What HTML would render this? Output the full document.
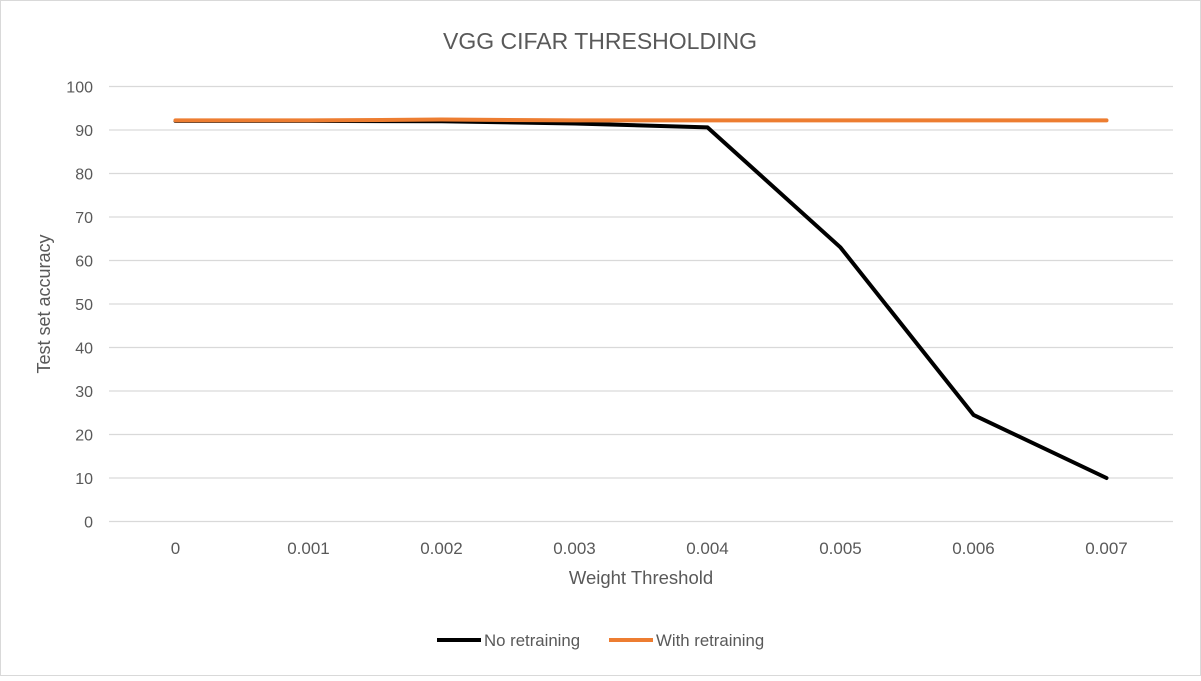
<!DOCTYPE html>
<html><head><meta charset="utf-8"><style>
html,body{margin:0;padding:0;background:#fff;}
body{width:1201px;height:676px;overflow:hidden;font-family:"Liberation Sans",sans-serif;}
</style></head><body>
<svg width="1201" height="676" xmlns="http://www.w3.org/2000/svg" font-family="Liberation Sans, sans-serif">
<rect x="0.5" y="0.5" width="1200" height="675" fill="#fff" stroke="#d9d9d9"/>
<text x="600" y="49" text-anchor="middle" font-size="23" fill="#595959">VGG CIFAR THRESHOLDING</text>
<g id="grid"></g><g id="yt"></g><g id="xt"></g><g id="series"></g>
<text x="641" y="584" text-anchor="middle" font-size="18.5" fill="#595959">Weight Threshold</text>
<text transform="translate(50,304) rotate(-90)" text-anchor="middle" font-size="18" fill="#595959">Test set accuracy</text>
<g>
<g><line x1="437" y1="640" x2="481" y2="640" stroke="#000" stroke-width="4"/><text x="484" y="646" font-size="16.8" fill="#595959">No retraining</text></g>
<g><line x1="609" y1="640" x2="653" y2="640" stroke="#ed7d31" stroke-width="4"/><text x="656" y="646" font-size="16.8" fill="#595959">With retraining</text></g>
</g>
</svg>
<script>
const categories=["0","0.001","0.002","0.003","0.004","0.005","0.006","0.007"];
const noRetraining=[92.1,92.1,92.0,91.5,90.6,63,24.5,10];
const withRetraining=[92.2,92.2,92.4,92.2,92.2,92.2,92.2,92.2];
const yTicks=[0,10,20,30,40,50,60,70,80,90,100];
const NS="http://www.w3.org/2000/svg";
const left=109,right=1173,y0=521.5,y100=86.5;
const bw=(right-left)/categories.length;
function x(i){return left+bw*(i+0.5);}
function y(v){return y0-(y0-y100)*v/100;}
function mk(t,a,p){const e=document.createElementNS(NS,t);for(const k in a)e.setAttribute(k,a[k]);p.appendChild(e);return e;}
const grid=document.getElementById('grid'),yt=document.getElementById('yt'),xt=document.getElementById('xt'),ser=document.getElementById('series');
yTicks.forEach(v=>{
 const l=mk('line',{x1:left,x2:right,y1:y(v),y2:y(v),stroke:'#d9d9d9','stroke-width':1.3},grid);
 
 
 const t=mk('text',{x:93,y:y(v)+6,'text-anchor':'end','font-size':16,fill:'#595959'},yt);
 t.textContent=v;
 
 
});
categories.forEach((c,i)=>{
 const t=mk('text',{x:x(i),y:554,'text-anchor':'middle','font-size':17,fill:'#595959'},xt);
 t.textContent=c;
 
 
});
function line(d,col,name){
 const p=mk('polyline',{points:d.map((v,i)=>x(i)+','+y(v)).join(' '),fill:'none',stroke:col,'stroke-width':4,'stroke-linejoin':'round','stroke-linecap':'round'},ser);
 
 
}
line(noRetraining,'#000','series-no-retraining');
line(withRetraining,'#ed7d31','series-with-retraining');
</script>
</body></html>
